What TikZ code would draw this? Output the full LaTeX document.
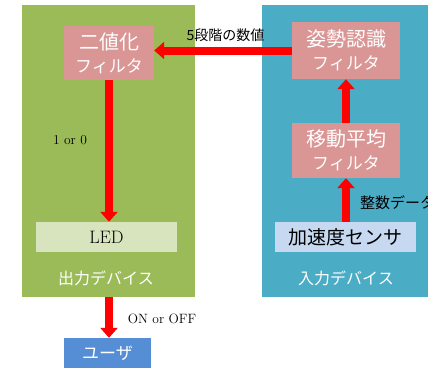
\documentclass[tikz,border=0pt]{standalone}
\usepackage{fontspec}
\newfontfamily\jp{Noto Sans CJK JP}
\usetikzlibrary{arrows.meta}
\definecolor{outgreen}{HTML}{9BBB59}
\definecolor{inblue}{HTML}{4BACC6}
\definecolor{filterpink}{HTML}{D99694}
\definecolor{ledfill}{HTML}{D7E4BD}
\definecolor{accfill}{HTML}{C6D9F1}
\definecolor{userblue}{HTML}{558ED5}
\tikzset{
  panel/.style={inner sep=0pt, draw=none},
  box/.style={inner sep=0pt, draw=none, align=center},
  filterbox/.style={box, fill=filterpink, text=white, font=\jp\fontsize{17}{23}\selectfont},
  bigarrow/.style={draw=red, line width=8pt, -{Triangle[width=17pt,length=10pt]}},
  lbl/.style={inner sep=0pt, text=black},
}
\newcommand{\firstline}[1]{{\fontsize{20}{23}\selectfont #1}}
\begin{document}
\begin{tikzpicture}[x=1pt,y=-1pt]
\useasboundingbox (0,0) rectangle (428,372);
\clip (0,0) rectangle (428,372);
% panels
\node[panel, fill=outgreen, minimum width=173pt, minimum height=292pt] (outp) at (108.5,151) {};
\node[panel, fill=inblue, minimum width=166pt, minimum height=292pt] (inp) at (345,151) {};
% boxes
\node[filterbox, minimum width=90pt, minimum height=54pt] (bin) at (109,53)
  {\firstline{二値化}\\フィルタ};
\node[filterbox, minimum width=108pt, minimum height=57pt] (pose) at (346,50.5)
  {\firstline{姿勢認識}\\フィルタ};
\node[filterbox, minimum width=108pt, minimum height=55pt] (ma) at (346,150.5)
  {\firstline{移動平均}\\フィルタ};
\node[box, fill=ledfill, minimum width=141pt, minimum height=30pt, font=\fontsize{18}{21}\selectfont] (led) at (106.5,237) {LED};
\node[box, fill=accfill, minimum width=141pt, minimum height=30pt, font=\jp\fontsize{19}{22}\selectfont] (acc) at (345.5,237) {加速度センサ};
\node[box, fill=userblue, text=white, minimum width=87pt, minimum height=30pt, font=\jp\fontsize{17}{20}\selectfont] (user) at (107.5,353) {ユーザ};
% panel titles
\node[lbl, text=white, font=\jp\fontsize{16}{19}\selectfont] (outt) at (106,278) {出力デバイス};
\node[lbl, text=white, font=\jp\fontsize{16}{19}\selectfont] (int) at (346,278) {入力デバイス};
% arrows
\draw[bigarrow] (pose.west) -- (bin.east |- pose.west);
\draw[bigarrow] (ma.north) -- (pose.south);
\draw[bigarrow] (acc.north -| ma.south) -- (ma.south);
\draw[bigarrow] (bin.south) -- (bin.south |- led.north);
\draw[bigarrow] (bin.south |- outp.south) -- (bin.south |- user.north);
% labels
\node[lbl, font=\jp\fontsize{14}{17}\selectfont] (l5) at (225.5,35) {5段階の数値};
\node[lbl, font=\fontsize{13.5}{16}\selectfont] (l10) at (70,140) {1 or 0};
\node[lbl, font=\fontsize{13.5}{16}\selectfont] (lon) at (162,319) {ON or OFF};
\node[lbl, anchor=west, font=\jp\fontsize{15}{18}\selectfont] (lint) at (360,203) {整数データ};
\end{tikzpicture}
\end{document}
